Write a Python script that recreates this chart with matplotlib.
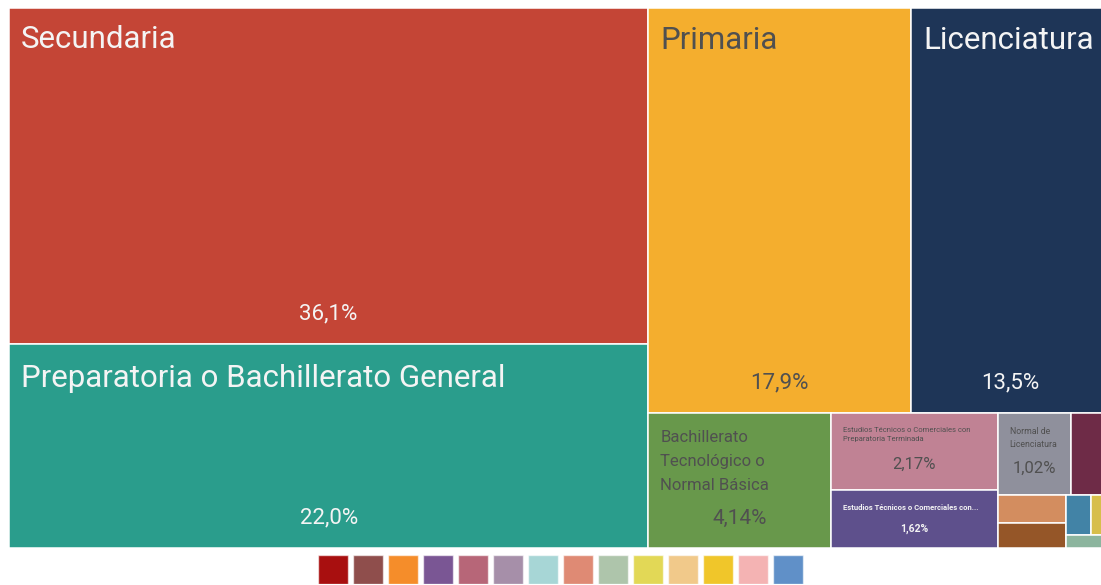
import textwrap

import matplotlib
matplotlib.use('Agg')
import matplotlib.pyplot as plt

plt.rcParams['font.family'] = ['Roboto', 'DejaVu Sans']

# data
levels = [
    'Secundaria',
    'Preparatoria o Bachillerato General',
    'Primaria',
    'Licenciatura',
    'Bachillerato Tecnológico o Normal Básica',
    'Estudios Técnicos o Comerciales con Preparatoria Terminada',
    'Estudios Técnicos o Comerciales con Secundaria Terminada',
    'Normal de Licenciatura',
    'Maestría',
    'Sin escolaridad',
    'Especialidad',
    'Doctorado',
    'Preescolar',
    'No especificado',
]
shares = [36.1, 22.0, 17.9, 13.5, 4.14, 2.17, 1.62, 1.02, 0.52, 0.32, 0.29, 0.17, 0.12, 0.09]
box_colors = ['#C44536', '#2A9D8C', '#F4AE2E', '#1E3557', '#68984B', '#C08294', '#5E508C',
              '#8F909C', '#6E2B47', '#D38D5F', '#955628', '#4283A6', '#D7BE4A', '#8CB59E']
legend_colors = ['#A80F0F', '#8F4E4C', '#F58D2A', '#7A5694', '#B76678', '#A68FA9', '#A7D6D6',
                 '#DF8A74', '#AEC5AB', '#E2D856', '#F1C98A', '#F0C62A', '#F4B3B3', '#6090C8']

LIGHT = '#F4F4F4'
DARK = '#505050'
label_styles = {
    'Secundaria': dict(name_fs=22.5, pct_fs=16, color=LIGHT, top=17),
    'Preparatoria o Bachillerato General': dict(name_fs=22.5, pct_fs=16, color=LIGHT, top=20),
    'Primaria': dict(name_fs=22.5, pct_fs=16, color=DARK, top=18),
    'Licenciatura': dict(name_fs=22.5, pct_fs=16, color=LIGHT, top=18),
    'Bachillerato Tecnológico o Normal Básica': dict(name_fs=12, pct_fs=15, color=DARK, wrap=16,
                                                     top=17, ls=1.75),
    'Estudios Técnicos o Comerciales con Preparatoria Terminada': dict(name_fs=5.5, pct_fs=12, color=DARK,
                                                                       wrap=36, top=14, ls=1.6),
    'Estudios Técnicos o Comerciales con Secundaria Terminada': dict(name_fs=5.5, pct_fs=7.5, color=LIGHT,
                                                                     weight='bold', cut=35, top=14),
    'Normal de Licenciatura': dict(name_fs=6.3, pct_fs=12, color=DARK, wrap=12, top=14, ls=1.55),
}


def squarify(values, x0, y0, x1, y1, ratio=(1 + 5 ** 0.5) / 2):
    rects = []
    i0 = i1 = 0
    n = len(values)
    value = sum(values)
    while i0 < n:
        dx, dy = x1 - x0, y1 - y0
        sum_v = values[i1]
        i1 += 1
        min_v = max_v = sum_v
        alpha = max(dy / dx, dx / dy) / (value * ratio)
        beta = sum_v * sum_v * alpha
        min_ratio = max(max_v / beta, beta / min_v)
        while i1 < n:
            v = values[i1]
            s = sum_v + v
            mn, mx = min(min_v, v), max(max_v, v)
            beta = s * s * alpha
            nr = max(mx / beta, beta / mn)
            if nr > min_ratio:
                break
            sum_v, min_v, max_v, min_ratio = s, mn, mx, nr
            i1 += 1
        row = values[i0:i1]
        if dx < dy:
            h = dy * sum_v / value
            cx = x0
            for v in row:
                w = dx * v / sum_v
                rects.append((cx, y0, w, h))
                cx += w
            y0 += h
        else:
            w = dx * sum_v / value
            cy = y0
            for v in row:
                h = dy * v / sum_v
                rects.append((x0, cy, w, h))
                cy += h
            x0 += w
        value -= sum_v
        i0 = i1
    return rects


def fmt_pct(v):
    s = f'{v:.1f}' if v >= 10 else f'{v:.2f}'
    return s.replace('.', ',') + '%'


W, H = 1101, 585
fig = plt.figure(figsize=(W / 100, H / 100), dpi=100)

# treemap area in pixel units
TW, TH = 1100, 540
ax = fig.add_axes([9 / W, (H - 8 - TH) / H, TW / W, TH / H])
ax.set_xlim(0, TW)
ax.set_ylim(TH, 0)
ax.axis('off')

rects = squarify(shares, 0, 0, TW, TH)
xs = [r[0] for r in rects]
ys = [r[1] for r in rects]
ws = [r[2] for r in rects]
hs = [r[3] for r in rects]
ax.bar(xs, hs, width=ws, bottom=ys, align='edge', color=box_colors,
       edgecolor='white', linewidth=1.1)

for name, v, (x, y, w, h) in zip(levels, shares, rects):
    st = label_styles.get(name)
    if st is None:
        continue
    txt = name
    if 'wrap' in st:
        txt = '\n'.join(textwrap.wrap(name, st['wrap'], break_long_words=False))
    if 'cut' in st:
        txt = name[:st['cut']] + '...'
    weight = st.get('weight', 'normal')
    ax.text(x + 12, y + st['top'], txt, fontsize=st['name_fs'], color=st['color'],
            ha='left', va='top', linespacing=st.get('ls', 1.2), fontweight=weight)
    off = min(30, h * 0.33)
    ax.text(x + w / 2, y + h - off, fmt_pct(v), fontsize=st['pct_fs'], color=st['color'],
            ha='center', va='center', fontweight=weight)

# legend swatches
lax = fig.add_axes([315.5 / W, 1 / H, 490 / W, 29 / H])
lax.bar(range(len(legend_colors)), 1, width=30 / 35, color=legend_colors,
        edgecolor=(1, 1, 1, 0.6), linewidth=1)
lax.set_xlim(-0.5, len(legend_colors) - 0.5)
lax.set_ylim(0, 1)
lax.axis('off')

fig.savefig('out.png', dpi=100)
